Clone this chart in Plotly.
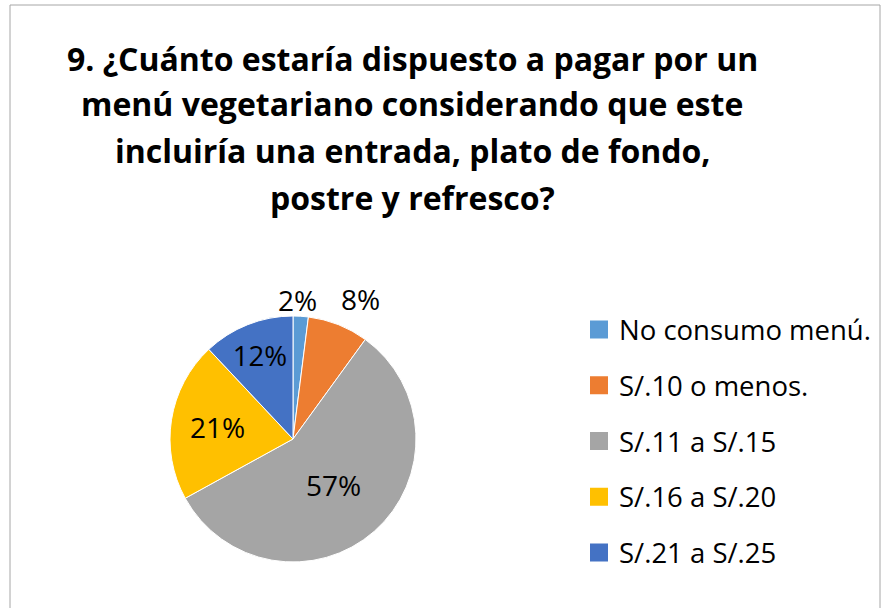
import math
import plotly.graph_objects as go

categories = ["No consumo menú.", "S/.10 o menos.", "S/.11 a S/.15", "S/.16 a S/.20", "S/.21 a S/.25"]
values = [2, 8, 57, 21, 12]
colors = ["#5B9BD5", "#ED7D31", "#A5A5A5", "#FFC000", "#4472C4"]
outside_label = [True, True, False, False, False]
title_lines = [
    "9. ¿Cuánto estaría dispuesto a pagar por un",
    "menú vegetariano considerando que este",
    "incluiría una entrada, plato de fondo,",
    "postre y refresco?",
]

W, H = 885, 608
FONT = "Open Sans, Calibri, Carlito, sans-serif"

# pie geometry (pixels)
PX0, PX1, PY0, PY1 = 170, 416, 316, 562
CX, CY, R = (PX0 + PX1) / 2, (PY0 + PY1) / 2, (PX1 - PX0) / 2

fig = go.Figure()
fig.add_trace(go.Pie(
    labels=categories,
    values=values,
    sort=False,
    direction="clockwise",
    rotation=0,
    marker=dict(colors=colors, line=dict(color="white", width=1)),
    texttemplate=["" if o else "%{percent:.0%}" for o in outside_label],
    textposition="inside",
    insidetextorientation="horizontal",
    textfont=dict(family=FONT, size=28, color="#000000"),
    showlegend=False,
    domain=dict(x=[PX0 / W, PX1 / W], y=[1 - PY1 / H, 1 - PY0 / H]),
    hoverinfo="label+percent",
))

# outside ("best fit") labels for the thin slices, placed from the slice mid-angles
total = sum(values)
cum = 0
radial = {0: 1.13, 1: 1.22}
for i, v in enumerate(values):
    mid = (cum + v / 2) / total * 2 * math.pi
    cum += v
    if not outside_label[i]:
        continue
    rr = R * radial[i]
    px = CX + rr * math.sin(mid) + (12 if i == 1 else -4)
    py = CY - rr * math.cos(mid)
    fig.add_annotation(
        text=f"{round(v / total * 100)}%", x=px / W, y=1 - py / H,
        xref="paper", yref="paper", xanchor="center", yanchor="middle",
        showarrow=False, font=dict(family=FONT, size=28, color="#000000"),
    )

# legend entries (one group each so spacing can match the original)
for name, col in zip(categories, colors):
    fig.add_trace(go.Scatter(
        x=[None], y=[None], mode="markers", name=name,
        marker=dict(symbol="square", size=16, color=col, line=dict(color=col, width=2)),
        legendgroup=name, showlegend=True, hoverinfo="skip",
    ))

title_y = [58, 104, 151, 197]
for line, yy in zip(title_lines, title_y):
    fig.add_annotation(
        text="<b>" + line + "</b>", x=412 / W, y=1 - yy / H,
        xref="paper", yref="paper", xanchor="center", yanchor="middle",
        showarrow=False, font=dict(family=FONT, size=32, color="#000000"),
    )

fig.add_shape(type="rect", xref="paper", yref="paper",
              x0=10 / W, x1=880 / W, y0=-0.02, y1=1 - 5 / H,
              line=dict(color="#A6A6A6", width=1), fillcolor="rgba(0,0,0,0)", layer="below")

fig.update_layout(
    width=W, height=H,
    margin=dict(l=0, r=0, t=0, b=0),
    paper_bgcolor="white", plot_bgcolor="white",
    xaxis=dict(visible=False), yaxis=dict(visible=False),
    showlegend=True,
    legend=dict(
        x=579 / W, y=1 - 305 / H, xanchor="left", yanchor="top",
        font=dict(family=FONT, size=27.5, color="#000000"),
        tracegroupgap=17, itemsizing="trace", bgcolor="rgba(0,0,0,0)",
    ),
)

fig.write_html("out.html", config={"displayModeBar": False},
               post_script="document.body.style.margin='0';")
